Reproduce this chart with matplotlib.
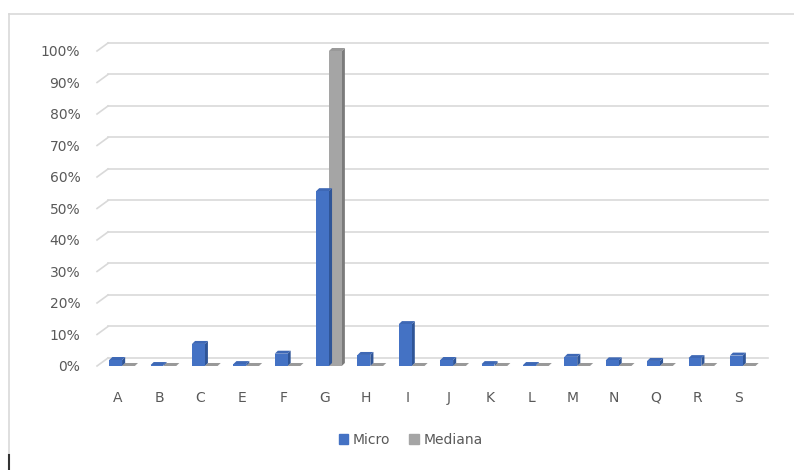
import matplotlib
matplotlib.use("Agg")
import matplotlib.pyplot as plt
from matplotlib.lines import Line2D
from matplotlib.patches import Rectangle

categories = ["A", "B", "C", "E", "F", "G", "H", "I", "J", "K", "L", "M", "N", "Q", "R", "S"]
micro = [0.019, 0.003, 0.070, 0.006, 0.039, 0.555, 0.035, 0.133, 0.019, 0.006, 0.003, 0.029, 0.018, 0.016, 0.025, 0.033]
mediana = [0, 0, 0, 0, 0, 1.0, 0, 0, 0, 0, 0, 0, 0, 0, 0, 0]
yticks = [i / 10 for i in range(11)]

BLUE, BLUE_SIDE, BLUE_TOP = "#4472C4", "#2F5597", "#3E68B5"
GRAY, GRAY_SIDE, GRAY_TOP = "#A5A5A5", "#7B7B7B", "#999999"
TEXT = "#595959"
GRID = "#D9D9D9"

fig = plt.figure(figsize=(7.94, 4.70), dpi=100)
ax = fig.add_axes([0.1222, 0.2213, 0.8338, 0.6702])
ax.set_xlim(-0.5, 15.5)
ax.set_ylim(0, 1.0)

# back wall gridlines with the little slanted side-wall piece
gdy = 0.0254
for v in yticks:
    ax.plot([-0.234, 15.72], [v + gdy, v + gdy], color=GRID, lw=1.2, clip_on=False, zorder=0)
    ax.plot([-0.5, -0.234], [v, v + gdy], color=GRID, lw=1.2, clip_on=False, zorder=0)

x = list(range(len(categories)))
w = 0.31
dx, dy = 0.075, 0.0095
x_micro = [i - 0.05 for i in x]
x_med = [i - 0.05 + w for i in x]


def prism(xs, vals, front, side, top, z):
    # 3d-ish column: side and top faces from the values, front via bar()
    for xc, v in zip(xs, vals):
        l, r = xc - w / 2, xc + w / 2
        ax.fill([r, r + dx, r + dx, r], [0, dy, v + dy, v], color=side, lw=0, zorder=z, clip_on=False)
        ax.fill([l, l + dx, r + dx, r], [v, v + dy, v + dy, v], color=top, lw=0, zorder=z, clip_on=False)
    ax.bar(xs, vals, width=w, color=front, zorder=z + 0.5, clip_on=False)


prism(x_med, mediana, GRAY, GRAY_SIDE, GRAY_TOP, 1)
prism(x_micro, micro, BLUE, BLUE_SIDE, BLUE_TOP, 3)

ax.set_yticks(yticks)
ax.set_yticklabels([f"{int(round(v * 100))}%" for v in yticks], color=TEXT, fontsize=10)
ax.set_xticks(x)
ax.set_xticklabels(categories, color=TEXT, fontsize=10)
ax.tick_params(axis="y", length=0, pad=12)
ax.tick_params(axis="x", length=0, pad=18)
for s in ax.spines.values():
    s.set_visible(False)

handles = [Rectangle((0, 0), 1, 1, color=BLUE), Rectangle((0, 0), 1, 1, color=GRAY)]
fig.legend(handles, ["Micro", "Mediana"], loc="center", bbox_to_anchor=(0.517, 0.064),
           ncol=2, frameon=False, fontsize=10, handlelength=0.7, handleheight=0.7,
           handletextpad=0.3, columnspacing=1.4, labelcolor=TEXT)

# chart border pieces
fig.add_artist(Line2D([9 / 794, 1], [1 - 14 / 470, 1 - 14 / 470], color=GRID, lw=1.2))
fig.add_artist(Line2D([9 / 794, 9 / 794], [1 - 14 / 470, 0], color=GRID, lw=1.2))
fig.add_artist(Line2D([9 / 794, 9 / 794], [15 / 470, 0], color="#333333", lw=1.5))

fig.savefig("out.png", dpi=100)
